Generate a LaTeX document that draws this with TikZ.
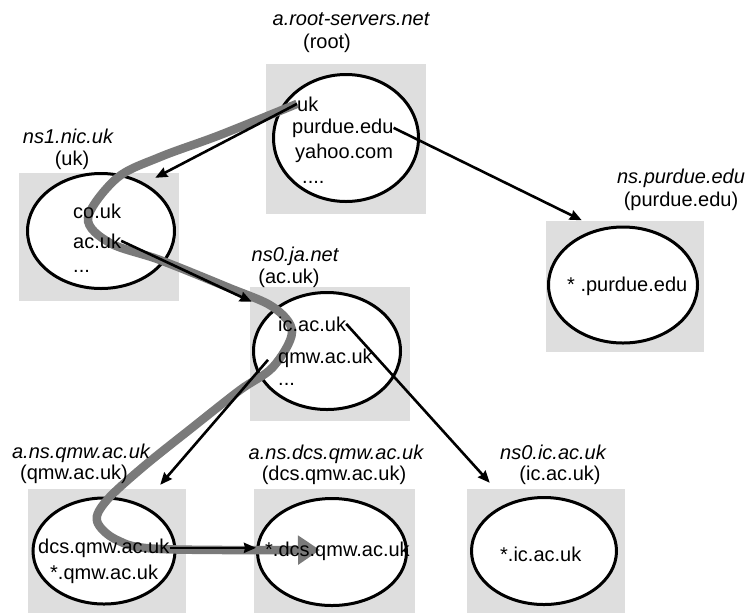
\documentclass[tikz,border=0pt]{standalone}
\usepackage{fontspec}
\setmainfont{Liberation Sans}
\usetikzlibrary{arrows.meta,calc,shapes.geometric}

\pgfdeclarelayer{boxes}
\pgfdeclarelayer{route}
\pgfsetlayers{boxes,route,main}

\tikzset{
    box/.style={fill=black!13, inner sep=0},
    server/.style={ellipse, draw, line width=3pt, fill=white, inner sep=0},
    entry/.style={anchor=base west, inner sep=0},
    host/.style={anchor=base, inner sep=0, execute at begin node=\itshape},
    zone/.style={anchor=base, inner sep=0},
    link/.style={line width=2.6pt, -{Stealth[length=12pt, width=10pt, inset=1pt]}},
    lookup/.style={line width=8.5pt, black!52, -{Triangle[length=22pt, width=28pt]}}
}

\begin{document}
\begin{tikzpicture}[x=1pt, y=-1pt, font=\fontsize{20}{24}\selectfont]
            % the frame
            \useasboundingbox (0,0) rectangle (751,614);

            % the servers
            \begin{pgfonlayer}{boxes}
            \foreach \n/\x/\y/\w/\h in {root/346/139/160pt/150pt,
                    uk/99/237/160pt/128pt,
                    ac/330/354/160pt/134pt,
                    purdue/625/286/158pt/131pt,
                    qmw/107/551/158pt/124pt,
                    dcs/334/551/161pt/124pt,
                    ic/546/551/158pt/124pt} {
                \node[box, minimum width=\w, minimum height=\h] (\n-box) at (\x,\y) {};
            };
            \node[server, minimum width=145pt, minimum height=127pt] (root) at (346,138) {};
            \node[server, minimum width=147pt, minimum height=115pt] (uk) at (101,231) {};
            \node[server, minimum width=147pt, minimum height=117pt] (ac) at (327,351) {};
            \node[server, minimum width=149pt, minimum height=116pt] (purdue) at (623,285) {};
            \node[server, minimum width=142pt, minimum height=106pt] (qmw) at (104,551) {};
            \node[server, minimum width=149pt, minimum height=107pt] (dcs) at (332,552) {};
            \node[server, minimum width=145pt, minimum height=107pt] (ic) at (544,551) {};
            \end{pgfonlayer}

            % the names
            \node[host] (root-host) at (351,25) {a.root-servers.net};
            \node[zone] (root-zone) at (327,48) {(root)};
            \node[host] (uk-host) at (68,143) {ns1.nic.uk};
            \node[zone] (uk-zone) at (72,165) {(uk)};
            \node[host] (ac-host) at (295,261) {ns0.ja.net};
            \node[zone] (ac-zone) at (289,283) {(ac.uk)};
            \node[host] (purdue-host) at (681,183) {ns.purdue.edu};
            \node[zone] (purdue-zone) at (681,206) {(purdue.edu)};
            \node[host] (qmw-host) at (81,458) {a.ns.qmw.ac.uk};
            \node[zone] (qmw-zone) at (74,479) {(qmw.ac.uk)};
            \node[host] (dcs-host) at (336,459) {a.ns.dcs.qmw.ac.uk};
            \node[zone] (dcs-zone) at (334,480) {(dcs.qmw.ac.uk)};
            \node[host] (ic-host) at (553,459) {ns0.ic.ac.uk};
            \node[zone] (ic-zone) at (560,480) {(ic.ac.uk)};

            % the entries
            \node[entry] (root-uk) at (297,111) {uk};
            \node[entry] (root-purdue) at (292,133) {purdue.edu};
            \node[entry] (root-yahoo) at (295,158) {yahoo.com};
            \node[entry] (root-more) at (302,183) {....};
            \node[entry] (uk-co) at (73,218) {co.uk};
            \node[entry] (uk-ac) at (73,248) {ac.uk};
            \node[entry] (uk-more) at (73,272) {...};
            \node[entry] (ac-ic) at (278,331) {ic.ac.uk};
            \node[entry] (ac-qmw) at (278,363) {qmw.ac.uk};
            \node[entry] (ac-more) at (278,385) {...};
            \node[entry] (purdue-all) at (567,291) {* .purdue.edu};
            \node[entry] (qmw-dcs) at (38,553) {dcs.qmw.ac.uk};
            \node[entry] (qmw-all) at (50,579) {*.qmw.ac.uk};
            \node[entry] (dcs-all) at (265,556) {*.dcs.qmw.ac.uk};
            \node[entry] (ic-all) at (500,561) {*.ic.ac.uk};

            % the lookup
            \coordinate (hit) at ($(dcs-all.base west)+(55,-6)$);
            \begin{pgfonlayer}{route}
            \draw[lookup] plot[smooth, tension=0.55] coordinates {(root-uk.west) (220,135) (160,157) (117,178)
                (88,218) (110,243) (160,260) (227,287) (273,307) (292,332) (273,367) (240,390) (193,427)
                (143,467) (107,500) (97,521) (117,540) (160,549) (hit)};
            \end{pgfonlayer}

            % arrows
            \draw[link] (root-uk.west) -- ($(uk-box.north east)+(-24,5)$);
            \draw[link] (root-purdue.east) -- ($(purdue-box.north west)+(36,0)$);
            \draw[link] (uk-ac.east) -- ($(ac-box.north west)+(2,15)$);
            \draw[link] (ac-ic.east) -- ($(ic-box.north west)+(23,-6)$);
            \draw[link] ($(ac-qmw.west)+(-10,2)$) -- ($(qmw-box.north east)+(-26,-4)$);
            \draw[link] (qmw-dcs.east) -- (qmw-dcs.east -| dcs.west);

        \end{tikzpicture}
\end{document}
